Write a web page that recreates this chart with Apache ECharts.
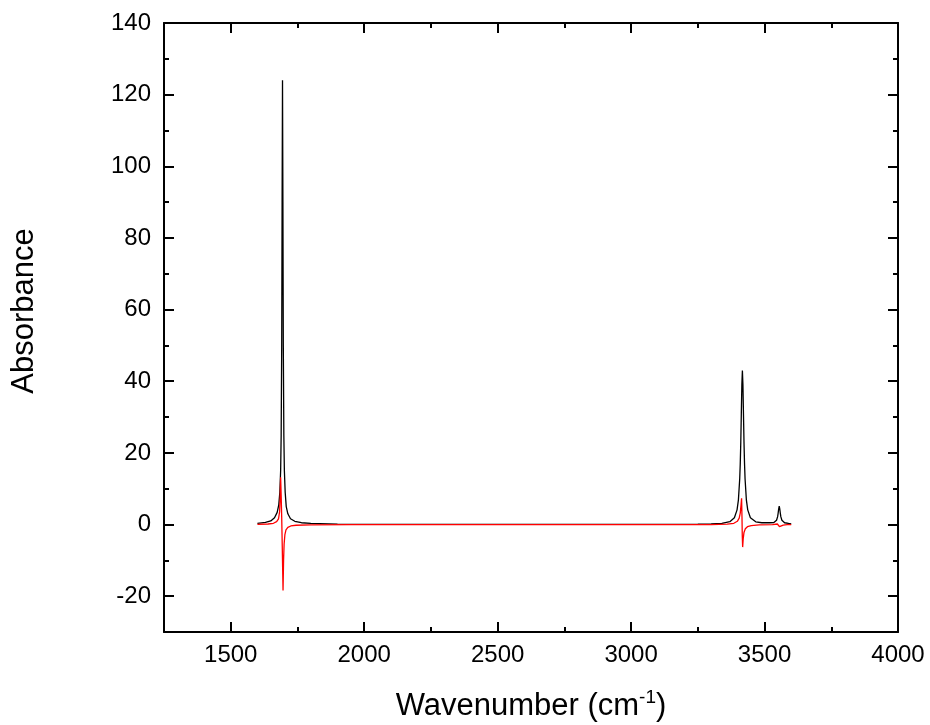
<!DOCTYPE html>
<html>
<head>
<meta charset="utf-8">
<title>Absorbance spectrum</title>
<script src="https://cdn.jsdelivr.net/npm/echarts@6/dist/echarts.min.js"></script>
<style>
  html, body { margin: 0; padding: 0; background: #fff; }
  #chart { width: 930px; height: 725px; }
</style>
</head>
<body>
<div id="chart"></div>
<script>
// Black trace: absorbance spectrum
const blackWavenumber = [
  1600, 1630, 1650, 1664, 1674, 1680, 1684, 1687, 1689, 1691, 1692.5, 1694,
  1695.5, 1697, 1699, 1701, 1704, 1708, 1714, 1724, 1740, 1765, 1800, 1900,
  2100, 2600, 3100, 3250, 3300, 3340, 3370, 3387, 3397, 3402, 3407, 3409,
  3411, 3413, 3415, 3417, 3419, 3421, 3423, 3425, 3427, 3432, 3437, 3447,
  3467, 3490, 3520, 3535, 3545, 3549, 3551, 3553, 3555, 3557, 3559, 3561,
  3565, 3575, 3590, 3600
];
const blackAbsorbance = [
  0.35, 0.6, 1.0, 1.9, 3.4, 5.5, 9, 15, 25, 50, 90, 124,
  90, 50, 25, 15, 9, 5, 3, 1.6, 0.9, 0.5, 0.3, 0.12,
  0.05, 0.02, 0.03, 0.12, 0.2, 0.35, 0.8, 1.9, 4.1, 6.8, 12.8, 17,
  23, 31, 39, 43, 39, 31, 23, 17, 12.8, 6.8, 4.1, 1.9,
  0.75, 0.5, 0.5, 0.55, 1.2, 2.2, 3.2, 4.4, 5.1, 4.4, 3.2, 2.2,
  1.2, 0.5, 0.3, 0.2
];

// Red trace: derivative-shaped difference curve
const redWavenumber = [
  1600, 1640, 1660, 1672, 1679, 1683, 1685, 1687, 1689, 1691, 1693, 1696,
  1698, 1700, 1703, 1707, 1714, 1725, 1745, 1800, 1950, 2300, 3300, 3360,
  3385, 3398, 3405, 3409, 3412, 3414, 3415.5, 3416.5, 3418, 3420, 3423, 3428,
  3436, 3450, 3480, 3530, 3548, 3552, 3554, 3556, 3558, 3562, 3570, 3585, 3600
];
const redAbsorbance = [
  0.05, 0.15, 0.35, 0.8, 1.6, 3.5, 7, 13.2, 8, 2, -6, -18.4,
  -10, -5.5, -2.8, -1.5, -0.8, -0.4, -0.2, -0.08, -0.02, 0, 0, 0.1,
  0.35, 0.9, 1.8, 3.2, 5.5, 7.3, 2, -3, -6.3, -4, -2.2, -1.2,
  -0.6, -0.3, -0.1, 0, 0.15, 0.35, 0, -0.6, -0.8, -0.4, -0.15, -0.05, 0
];

// Axis ticks and labels
const xRange = [1250, 4000];
const xMajorTicks = [1500, 2000, 2500, 3000, 3500, 4000];
const xMinorTicks = [1750, 2250, 2750, 3250, 3750];
const yRange = [-30, 140];
const yMajorTicks = [-20, 0, 20, 40, 60, 80, 100, 120, 140];
const yMinorTicks = [-10, 10, 30, 50, 70, 90, 110, 130];

const xTitle = 'Wavenumber (cm';
const xTitleSup = '-1';
const yTitle = 'Absorbance';

const FONT = '"Liberation Sans", Arial, sans-serif';
const AXIS_COLOR = '#000';

function pairs(xs, ys) {
  return xs.map((x, i) => [x, ys[i]]);
}

function makeAxis(kind, position, ticks, labelled, long) {
  const range = kind === 'x' ? xRange : yRange;
  return {
    type: 'value',
    position: position,
    min: range[0],
    max: range[1],
    scale: true,
    splitLine: { show: false },
    axisLine: {
      show: long,
      onZero: false,
      lineStyle: { color: AXIS_COLOR, width: 2 }
    },
    axisTick: {
      show: true,
      inside: true,
      length: long ? 10 : 5,
      customValues: ticks,
      lineStyle: { color: AXIS_COLOR, width: 2 }
    },
    axisLabel: labelled ? {
      show: true,
      customValues: ticks,
      formatter: (v) => String(v),
      color: '#000',
      fontSize: 24,
      fontFamily: FONT,
      margin: kind === 'x' ? 11 : 13
    } : { show: false }
  };
}

const chart = echarts.init(document.getElementById('chart'), null, { renderer: 'canvas' });

chart.setOption({
  animation: false,
  backgroundColor: '#fff',
  grid: { left: 164, right: 32, top: 23, bottom: 93, containLabel: false },
  xAxis: [
    makeAxis('x', 'bottom', xMajorTicks, true, true),
    makeAxis('x', 'bottom', xMinorTicks, false, false),
    makeAxis('x', 'top', xMajorTicks, false, true),
    makeAxis('x', 'top', xMinorTicks, false, false)
  ],
  yAxis: [
    makeAxis('y', 'left', yMajorTicks, true, true),
    makeAxis('y', 'left', yMinorTicks, false, false),
    makeAxis('y', 'right', yMajorTicks, false, true),
    makeAxis('y', 'right', yMinorTicks, false, false)
  ],
  series: [
    {
      name: 'absorbance',
      type: 'line',
      xAxisIndex: 0,
      yAxisIndex: 0,
      data: pairs(blackWavenumber, blackAbsorbance),
      showSymbol: false,
      symbol: 'none',
      lineStyle: { color: '#000', width: 1.3 },
      z: 3
    },
    {
      name: 'difference',
      type: 'line',
      xAxisIndex: 0,
      yAxisIndex: 0,
      data: pairs(redWavenumber, redAbsorbance),
      showSymbol: false,
      symbol: 'none',
      lineStyle: { color: '#ff0000', width: 1.3 },
      z: 4
    }
  ],
  graphic: [
    {
      type: 'text',
      x: 24,
      y: 311,
      rotation: Math.PI / 2,
      style: {
        text: yTitle,
        fontSize: 31,
        fontFamily: FONT,
        fill: '#000',
        align: 'center',
        verticalAlign: 'middle'
      }
    },
    {
      type: 'text',
      x: 531,
      y: 706,
      style: {
        text: '{m|' + xTitle + '}{s|' + xTitleSup + '}{m|)}',
        align: 'center',
        verticalAlign: 'middle',
        rich: {
          m: { fontSize: 31, fontFamily: FONT, fill: '#000', lineHeight: 36 },
          s: { fontSize: 19, fontFamily: FONT, fill: '#000', lineHeight: 19, verticalAlign: 'top' }
        }
      }
    }
  ]
});
</script>
</body>
</html>
